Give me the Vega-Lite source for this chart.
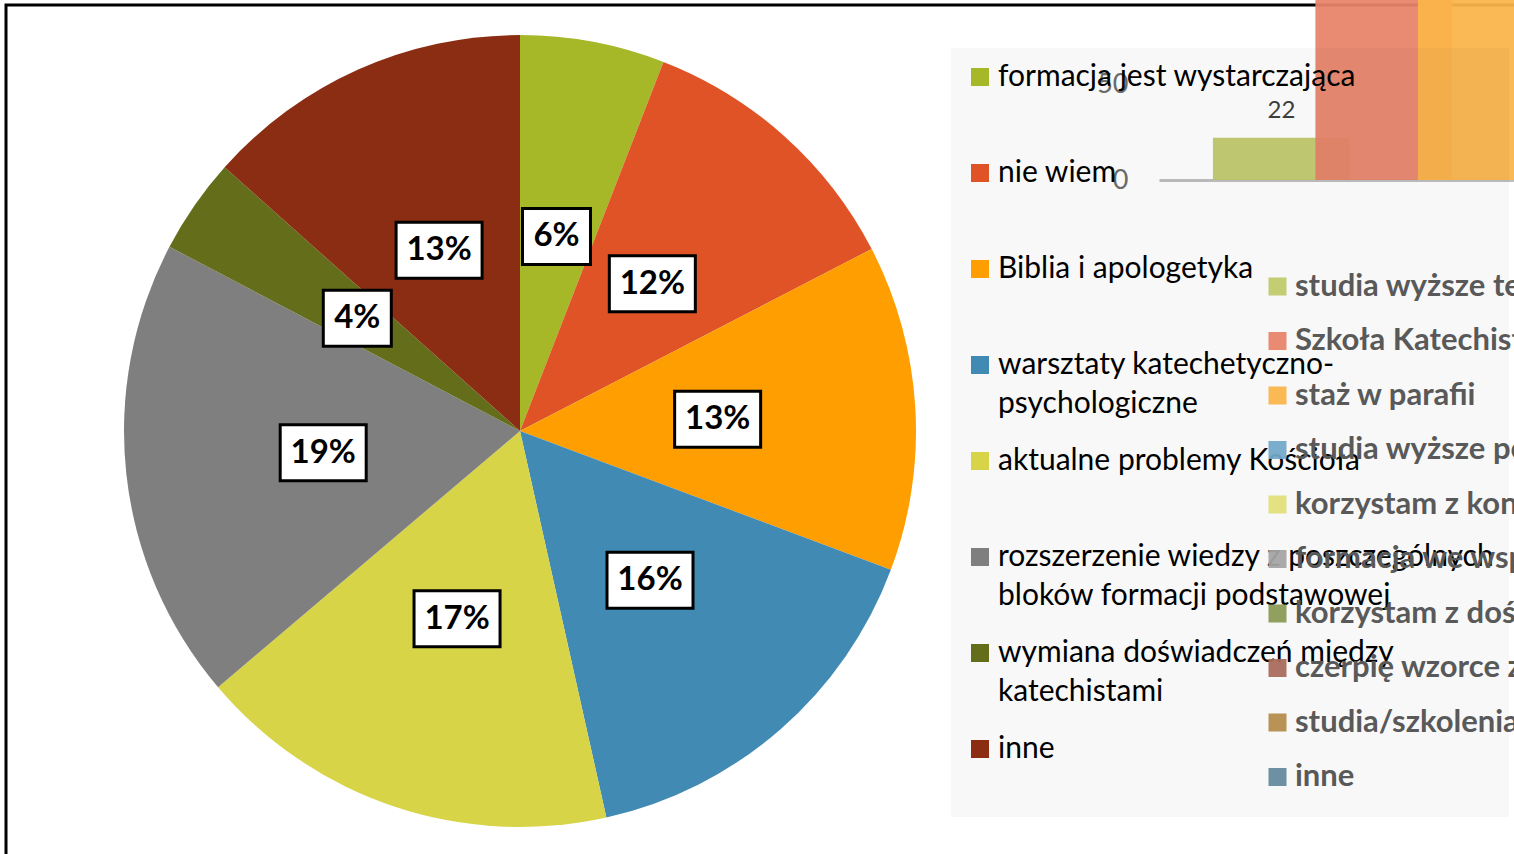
{
  "$schema": "https://vega.github.io/schema/vega-lite/v6.json",
  "width": 1512,
  "height": 853,
  "autosize": {"type": "none"},
  "padding": {"left": 6, "top": 5, "right": -4, "bottom": -4},
  "background": "white",
  "config": {
    "view": {"stroke": "#000000", "strokeWidth": 3},
    "style": {"guide-label": {"lineHeight": 39}}
  },
  "layer": [
    {
      "data": {
        "values": [
          {"idx": 1, "kategoria": "formacja jest wystarczająca", "wartosc": 5.9, "etykieta": "6%"},
          {"idx": 2, "kategoria": "nie wiem", "wartosc": 11.5, "etykieta": "12%"},
          {"idx": 3, "kategoria": "Biblia i apologetyka", "wartosc": 13.3, "etykieta": "13%"},
          {"idx": 4, "kategoria": "warsztaty katechetyczno-psychologiczne", "wartosc": 15.8, "etykieta": "16%"},
          {"idx": 5, "kategoria": "aktualne problemy Kościoła", "wartosc": 17.3, "etykieta": "17%"},
          {"idx": 6, "kategoria": "rozszerzenie wiedzy z poszczególnych bloków formacji podstawowej", "wartosc": 18.9, "etykieta": "19%"},
          {"idx": 7, "kategoria": "wymiana doświadczeń między katechistami", "wartosc": 3.9, "etykieta": "4%"},
          {"idx": 8, "kategoria": "inne", "wartosc": 13.4, "etykieta": "13%"}
        ]
      },
      "transform": [
        {"joinaggregate": [{"op": "sum", "field": "wartosc", "as": "suma"}]},
        {"window": [{"op": "sum", "field": "wartosc", "as": "narast"}], "sort": [{"field": "idx"}], "frame": [null, 0]},
        {"calculate": "2 * PI * (datum.narast - datum.wartosc / 2) / datum.suma", "as": "kat"},
        {"calculate": "198 * sin(datum.kat)", "as": "lx"},
        {"calculate": "198 * cos(datum.kat)", "as": "ly"},
        {"calculate": "length(datum.etykieta) > 2 ? 43 : 34", "as": "pol"},
        {"calculate": "datum.lx - datum.pol", "as": "bx1"},
        {"calculate": "datum.lx + datum.pol", "as": "bx2"},
        {"calculate": "datum.ly - 28", "as": "by1"},
        {"calculate": "datum.ly + 28", "as": "by2"}
      ],
      "layer": [
        {
          "mark": {"type": "arc", "outerRadius": 396},
          "encoding": {
            "x": {"datum": 0, "type": "quantitative", "scale": {"domain": [-514, 998], "nice": false, "zero": false}, "axis": null},
            "y": {"datum": 0, "type": "quantitative", "scale": {"domain": [-427, 426], "nice": false, "zero": false}, "axis": null},
            "theta": {"field": "wartosc", "type": "quantitative", "stack": true},
            "order": {"field": "idx", "type": "quantitative"},
            "color": {
              "field": "kategoria",
              "type": "nominal",
              "sort": null,
              "scale": {
                "domain": ["formacja jest wystarczająca", "nie wiem", "Biblia i apologetyka", "warsztaty katechetyczno-psychologiczne", "aktualne problemy Kościoła", "rozszerzenie wiedzy z poszczególnych bloków formacji podstawowej", "wymiana doświadczeń między katechistami", "inne"],
                "range": ["#A6B727", "#DF5327", "#FE9E00", "#418AB3", "#D7D447", "#7F7F7F", "#646E1A", "#8A2D13"]
              },
              "legend": {
                "orient": "none",
                "legendX": 945,
                "legendY": 43,
                "title": null,
                "fillColor": "rgba(0,0,0,0.028)",
                "padding": 14,
                "symbolType": "square",
                "symbolSize": 324,
                "symbolStrokeWidth": 0,
                "labelFont": "Lato",
                "labelFontSize": 30,
                "labelColor": "#000000",
                "labelOffset": 3,
                "labelLimit": 1000,
                "labelBaseline": "middle",
                "gridAlign": "all",
                "rowPadding": 27,
                "labelExpr": "datum.label == 'warsztaty katechetyczno-psychologiczne' ? ['warsztaty katechetyczno-', 'psychologiczne'] : datum.label == 'rozszerzenie wiedzy z poszczególnych bloków formacji podstawowej' ? ['rozszerzenie wiedzy z poszczególnych', 'bloków formacji podstawowej'] : datum.label == 'wymiana doświadczeń między katechistami' ? ['wymiana doświadczeń między', 'katechistami'] : datum.label == 'inne' ? ['inne', ' '] : datum.label"
              }
            }
          }
        },
        {
          "mark": {"type": "rect", "fill": "#FFFFFF", "stroke": "#000000", "strokeWidth": 3},
          "encoding": {
            "x": {"field": "bx1", "type": "quantitative"},
            "x2": {"field": "bx2"},
            "y": {"field": "by1", "type": "quantitative"},
            "y2": {"field": "by2"}
          }
        },
        {
          "mark": {"type": "text", "font": "Lato", "fontWeight": "bold", "fontSize": 33, "align": "center", "baseline": "middle", "color": "#000000"},
          "encoding": {
            "x": {"field": "lx", "type": "quantitative"},
            "y": {"field": "ly", "type": "quantitative"},
            "text": {"field": "etykieta", "type": "nominal"}
          }
        }
      ]
    },
    {
      "data": {
        "values": [
          {"kategoria2": "studia wyższe teologiczne", "wartosc2": 22},
          {"kategoria2": "Szkoła Katechistów", "wartosc2": 110},
          {"kategoria2": "staż w parafii", "wartosc2": 105},
          {"kategoria2": "studia wyższe pedagogiczne", "wartosc2": null},
          {"kategoria2": "korzystam z konferencji", "wartosc2": null},
          {"kategoria2": "formacja we wspólnocie", "wartosc2": null},
          {"kategoria2": "korzystam z doświadczeń innych", "wartosc2": null},
          {"kategoria2": "czerpię wzorce z innych", "wartosc2": null},
          {"kategoria2": "studia/szkolenia", "wartosc2": null},
          {"kategoria2": "inne", "wartosc2": null}
        ]
      },
      "layer": [
        {
          "mark": {"type": "point", "filled": true, "shape": "square", "opacity": 0},
          "encoding": {
            "color": {
              "field": "kategoria2",
              "type": "nominal",
              "sort": null,
              "scale": {
                "domain": ["studia wyższe teologiczne", "Szkoła Katechistów", "staż w parafii", "studia wyższe pedagogiczne", "korzystam z konferencji", "formacja we wspólnocie", "korzystam z doświadczeń innych", "czerpię wzorce z innych", "studia/szkolenia", "inne"],
                "range": ["#C0CA6A", "#E8836A", "#FBB54A", "#73A9C9", "#E2DF7B", "#A5A5A5", "#8B9A55", "#A86A5A", "#B58C4A", "#64899C"]
              },
              "legend": {
                "orient": "none",
                "legendX": 1256,
                "legendY": 266,
                "title": null,
                "padding": 0,
                "symbolType": "square",
                "symbolSize": 324,
                "symbolOpacity": 1,
                "symbolStrokeWidth": 0,
                "labelFont": "Lato",
                "labelFontSize": 31,
                "labelFontWeight": "bold",
                "labelColor": "#595959",
                "labelOffset": 2,
                "labelLimit": 1000,
                "labelBaseline": "middle",
                "rowPadding": 22.5
              }
            }
          }
        },
        {
          "mark": {"type": "bar", "width": {"band": 1.337}, "opacity": 0.94},
          "encoding": {
            "x": {
              "field": "kategoria2",
              "type": "nominal",
              "sort": null,
              "scale": {"domain": ["studia wyższe teologiczne", "Szkoła Katechistów", "staż w parafii", "studia wyższe pedagogiczne", "korzystam z konferencji", "formacja we wspólnocie", "korzystam z doświadczeń innych", "czerpię wzorce z innych", "studia/szkolenia", "inne"], "range": [1153, 2320], "paddingInner": 0, "paddingOuter": 0.695},
              "axis": {"orient": "top", "offset": -175, "labels": false, "ticks": false, "grid": false, "domainColor": "#BFBFBF", "domainWidth": 3, "title": null}
            },
            "y": {
              "field": "wartosc2",
              "type": "quantitative",
              "scale": {"domain": [0, 50], "range": [175, 79], "nice": false, "zero": false},
              "axis": {"orient": "left", "offset": -1153, "values": [0, 50], "domain": false, "ticks": false, "tickSize": 0, "grid": false, "labelPadding": 31, "labelFont": "Lato", "labelFontSize": 27, "labelColor": "#6E6E6E", "title": null}
            },
            "color": {"field": "kategoria2", "type": "nominal"}
          }
        },
        {
          "mark": {"type": "text", "font": "Lato", "fontSize": 24, "color": "#404040", "align": "center", "baseline": "middle", "dy": -27},
          "encoding": {
            "x": {"field": "kategoria2", "type": "nominal", "sort": null},
            "y": {"field": "wartosc2", "type": "quantitative"},
            "text": {"field": "wartosc2", "type": "quantitative"}
          }
        }
      ]
    }
  ],
  "resolve": {
    "scale": {"color": "independent", "x": "independent", "y": "independent"},
    "legend": {"color": "independent"},
    "axis": {"x": "independent", "y": "independent"}
  }
}
